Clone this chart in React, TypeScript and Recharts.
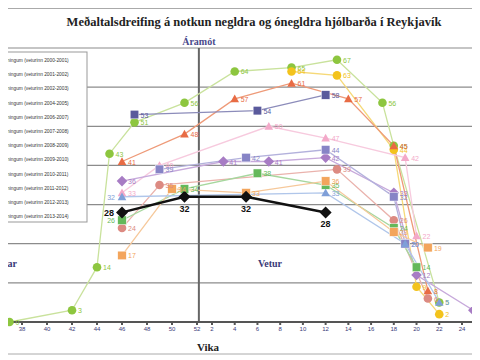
import React from 'react';
import { LineChart, Line, XAxis, YAxis, CartesianGrid, ReferenceLine, LabelList } from 'recharts';

// week, value pairs
const s0001 = [[37, 0], [42, 3], [44, 14], [45, 43], [47, 51], [51, 56], [4, 64], [9, 65], [13, 67], [17, 56], [18, 45], [22, 5]];
const s0102 = [[9, 64], [13, 63], [18, 44], [20, 9], [22, 2]];
const s0203 = [[46, 41], [51, 48], [4, 57], [9, 61], [14, 57], [18, 45], [21, 8]];
const s0405 = [[47, 53], [6, 54], [12, 58]];
const s0607 = [[46, 33], [49, 40], [7, 50], [12, 47], [19, 42], [20, 22]];
const s0708 = [[46, 36], [3, 41], [7, 41], [12, 42], [18, 33], [20, 12], [25, 3]];
const s0809 = [[49, 39], [5, 42], [12, 44], [18, 32], [19, 20]];
const s0910 = [[46, 24], [49, 35], [13, 39], [18, 26], [21, 6]];
const s1011 = [[46, 26], [51, 34], [6, 38], [12, 35], [18, 24], [20, 14]];
const s1112 = [[46, 17], [50, 34], [5, 33], [12, 36], [18, 23], [21, 19]];
const s1213 = [[46, 32], [12, 33], [19, 20], [22, 5]];
const s1314 = [[46, 28], [51, 32], [5, 32], [12, 28]];

const seasons = ['2000-2001', '2001-2002', '2002-2003', '2004-2005', '2006-2007', '2007-2008', '2008-2009', '2009-2010', '2010-2011', '2011-2012', '2012-2013', '2013-2014'];
const seriesData = [s0001, s0102, s0203, s0405, s0607, s0708, s0809, s0910, s1011, s1112, s1213, s1314];
const markerColors = ['#8dc63f', '#f3c31c', '#e86c45', '#5a5a9c', '#f3a9c9', '#a77cc4', '#8784c6', '#dc8a82', '#64b85a', '#f3a55c', '#7f9fd8', '#111111'];
const lineColors = ['#c9e29c', '#f6d978', '#ee9a78', '#8c8cba', '#f7cade', '#c7a9db', '#b3b1dc', '#eab2ac', '#a6d79e', '#f6c89a', '#b0c6ea', '#111111'];
const shapes = ['circle', 'circle', 'triangle', 'square', 'triangle', 'diamond', 'square', 'circle', 'square', 'square', 'triangle', 'diamond'];
// series whose first label sits left of the point
const firstLabelLeft = ['2010-2011', '2012-2013', '2013-2014'];

const autumnTicks = [36, 38, 40, 42, 44, 46, 48, 50, 52];
const springTicks = [2, 4, 6, 8, 10, 12, 14, 16, 18, 20, 22, 24, 26];

// axis position of a week: autumn weeks run on, spring weeks are a bit tighter
const weekPos = (w: number) => (w >= 30 ? w : 53.2 + (w - 2) * 0.909);
const NEW_YEAR = 52.15;
const ticks = [...autumnTicks.map(weekPos), ...springTicks.map(weekPos)];
const tickLabel = (p: number) => {
  const w = [...autumnTicks, ...springTicks].find((t) => Math.abs(weekPos(t) - p) < 0.01);
  return w == null ? '' : String(w);
};

const makeDot = (shape: string, fill: string, big: boolean) => (p: any) => {
  const { cx, cy, index } = p;
  if (cx == null || cy == null) return <g key={index} />;
  const r = big ? 5 : 4.3;
  let el;
  if (shape === 'circle') el = <circle cx={cx} cy={cy} r={r} fill={fill} />;
  else if (shape === 'square') el = <rect x={cx - r} y={cy - r} width={r * 2} height={r * 2} fill={fill} stroke="#fff" strokeWidth={0.5} />;
  else if (shape === 'triangle') el = <polygon points={`${cx},${cy - r} ${cx + r},${cy + r * 0.8} ${cx - r},${cy + r * 0.8}`} fill={fill} />;
  else el = <polygon points={`${cx},${cy - r - 1} ${cx + r + 1},${cy} ${cx},${cy + r + 1} ${cx - r - 1},${cy}`} fill={fill} />;
  return <g key={index}>{el}</g>;
};

const makeLabel = (fill: string, big: boolean, leftFirst: boolean) => (p: any) => {
  const { x, y, value, index } = p;
  const left = leftFirst && index === 0;
  if (big) {
    return left ? (
      <text key={index} x={x - 8} y={y + 4} textAnchor="end" fontSize={9} fontWeight="bold" fill={fill} fontFamily="Arial, sans-serif">
        {value}
      </text>
    ) : (
      <text key={index} x={x} y={y + 15} textAnchor="middle" fontSize={9} fontWeight="bold" fill={fill} fontFamily="Arial, sans-serif">
        {value}
      </text>
    );
  }
  return (
    <text key={index} x={left ? x - 7 : x + 6} y={y + 3} textAnchor={left ? 'end' : 'start'} fontSize={7} fill={fill} fontFamily="Arial, sans-serif">
      {value}
    </text>
  );
};

const serif = '"Liberation Serif", "Times New Roman", serif';

export default function App() {
  return (
    <div style={{ position: 'relative', width: 480, height: 360, marginLeft: -8, marginTop: -8, background: '#fff', overflow: 'hidden' }}>
      <LineChart width={480} height={360} margin={{ top: 48, right: 0, bottom: 18, left: 0 }}>
        <CartesianGrid vertical={false} stroke="#8c8c8c" strokeWidth={1.2} />
        <XAxis
          type="number"
          dataKey="x"
          domain={[36.24, 74.64]}
          ticks={ticks}
          tickFormatter={tickLabel}
          allowDataOverflow
          interval={0}
          height={20}
          stroke="#555"
          strokeWidth={2}
          tickSize={3}
          tick={{ fontSize: 6, fill: '#3a3a78', fontFamily: 'Arial, sans-serif' }}
        />
        <YAxis hide domain={[0, 70]} ticks={[0, 10, 20, 30, 40, 50, 60, 70]} />
        <ReferenceLine
          x={NEW_YEAR}
          stroke="#666"
          strokeWidth={2}
          label={{ value: 'Áramót', position: 'top', offset: 3, fontSize: 10, fontWeight: 'bold', fill: '#4a4a8c', fontFamily: serif }}
        />
        {seriesData.map((pts, i) => {
          const big = i === seriesData.length - 1;
          const data = pts.map(([w, v]) => ({ x: weekPos(w), v }));
          return (
            <Line
              key={seasons[i]}
              data={data}
              dataKey="v"
              name={seasons[i]}
              stroke={lineColors[i]}
              strokeWidth={big ? 2.5 : 1.3}
              dot={makeDot(shapes[i], markerColors[i], big)}
              activeDot={false}
              isAnimationActive={false}
            >
              <LabelList dataKey="v" content={makeLabel(markerColors[i], big, firstLabelLeft.includes(seasons[i]))} />
            </Line>
          );
        })}
      </LineChart>
      <svg width={480} height={360} style={{ position: 'absolute', left: 0, top: 0, pointerEvents: 'none' }}>
        <line x1={0} x2={480} y1={5} y2={5} stroke="#aaa" />
        <line x1={0} x2={480} y1={8.5} y2={8.5} stroke="#aaa" />
        <line x1={0} x2={480} y1={354} y2={354} stroke="#aaa" />
        <text x={254} y={26} textAnchor="middle" fontSize={12.5} fontWeight="bold" fontFamily={serif} fill="#222">
          Meðaltalsdreifing á notkun negldra og ónegldra hjólbarða í Reykjavík
        </text>
        <text x={17} y={267} textAnchor="end" fontSize={10} fontWeight="bold" fontFamily={serif} fill="#3a3a78">Sumar</text>
        <text x={270} y={267} textAnchor="middle" fontSize={10} fontWeight="bold" fontFamily={serif} fill="#3a3a78">Vetur</text>
        <text x={208} y={351} textAnchor="middle" fontSize={11} fontWeight="bold" fontFamily={serif} fill="#222">Vika</text>
        <rect x={-2} y={52} width={89} height={170} fill="#fff" stroke="#999" />
        {seasons.map((s, i) => (
          <text key={s} x={2} y={62 + i * 14.2} fontSize={4.8} fill="#333" fontFamily="Arial, sans-serif">
            talningum (veturinn {s})
          </text>
        ))}
      </svg>
    </div>
  );
}
